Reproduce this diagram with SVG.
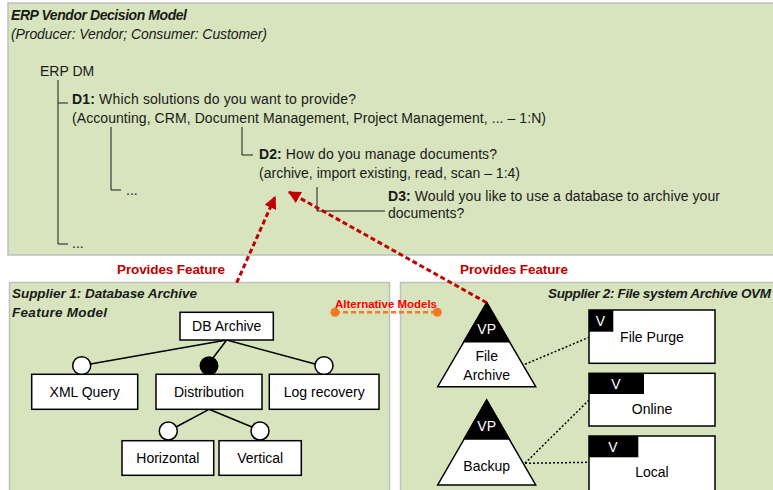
<svg xmlns="http://www.w3.org/2000/svg" width="773" height="490" viewBox="0 0 773 490">
<defs>
<style>
text{font-family:"Liberation Sans",Arial,sans-serif;fill:#1a1a1a;}
.t{font-size:14px;}
.b{font-weight:bold;}
.bi{font-weight:bold;font-style:italic;}
.it{font-style:italic;}
.panel{fill:#d7e4bd;stroke:#bfbfbf;stroke-width:1.5;}
.tree{fill:none;stroke:#1a1a1a;stroke-width:1;}
.box{fill:#ffffff;stroke:#000;stroke-width:1.5;}
.ln{fill:none;stroke:#000;stroke-width:1.5;}
.circ{fill:#fff;stroke:#000;stroke-width:1.5;}
.dot{fill:none;stroke:#000;stroke-width:1.5;stroke-dasharray:2,2;}
.red{fill:none;stroke:#c00000;stroke-width:3;stroke-dasharray:5,3;}
.pf{fill:#c00000;font-weight:bold;font-size:13.5px;}
.lab{font-size:14px;text-anchor:middle;fill:#000;}
.wt{font-size:14px;text-anchor:middle;fill:#fff;}
</style>
<marker id="ah" viewBox="0 0 10 10" refX="9" refY="5" markerWidth="4.2" markerHeight="4.2" orient="auto" markerUnits="strokeWidth">
<path d="M0,0 L10,5 L0,10 z" fill="#c00000"/>
</marker>
</defs>

<g id="panel-top">
<rect class="panel" x="8" y="3" width="800" height="252"/>
<text class="t bi" x="11" y="20" textLength="176">ERP Vendor Decision Model</text>
<text class="t it" x="11" y="39" textLength="256">(Producer: Vendor; Consumer: Customer)</text>
</g>

<g id="decision-tree">
<text id="erpdm" class="t" x="40" y="76">ERP DM</text>
<path class="tree" d="M58,80 V244 H68 M58,103 H68 M111,127 V190 H121 M242,127 V155 H253 M317,187 V211 H385"/>
<text id="d1" class="t" x="72" y="104" textLength="284"><tspan class="b">D1:</tspan> Which solutions do you want to provide?</text>
<text class="t" x="72" y="123" textLength="474">(Accounting, CRM, Document Management, Project Management, ... – 1:N)</text>
<text class="t" x="126" y="195">...</text>
<text id="d2" class="t" x="259" y="159" textLength="238"><tspan class="b">D2:</tspan> How do you manage documents?</text>
<text class="t" x="259" y="178" textLength="261">(archive, import existing, read, scan – 1:4)</text>
<text id="d3" class="t" x="388" y="201" textLength="332"><tspan class="b">D3:</tspan> Would you like to use a database to archive your</text>
<text class="t" x="388" y="218">documents?</text>
<text class="t" x="72" y="248">...</text>
</g>

<g id="panel-supplier1">
<rect class="panel" x="9.5" y="282.5" width="380" height="220"/>
<text class="bi" font-size="13.5" x="12" y="298" textLength="185">Supplier 1: Database Archive</text>
<text class="bi" font-size="13.5" x="12" y="317" textLength="95">Feature Model</text>
</g>

<g id="panel-supplier2">
<rect class="panel" x="400.5" y="282.5" width="400" height="220"/>
<text class="bi" font-size="13.5" x="548" y="298" textLength="223">Supplier 2: File system Archive OVM</text>
</g>

<g id="feature-model">
<path class="ln" d="M226.7,340 L90.5,364 M226.7,340 L213,358 M226.7,340 L315,364 M209,409.3 L176,427 M209,409.3 L252,427"/>
<circle class="circ" cx="81.7" cy="365.7" r="9"/>
<circle cx="209" cy="365.7" r="9.5" fill="#000"/>
<circle class="circ" cx="324" cy="365.7" r="9"/>
<circle class="circ" cx="168.3" cy="431" r="9"/>
<circle class="circ" cx="260" cy="431" r="9"/>
<g id="n-dbarchive"><rect class="box" x="180" y="312.3" width="93.3" height="27.7"/><text class="lab" x="226.7" y="331">DB Archive</text></g>
<g id="n-xml"><rect class="box" x="31.7" y="374.3" width="106" height="35"/><text class="lab" x="84.7" y="397">XML Query</text></g>
<g id="n-distribution"><rect class="box" x="156" y="374.3" width="106" height="35"/><text class="lab" x="209" y="397">Distribution</text></g>
<g id="n-log"><rect class="box" x="269.3" y="374.3" width="109.7" height="35"/><text class="lab" x="324.2" y="397">Log recovery</text></g>
<g id="n-horizontal"><rect class="box" x="122" y="440.7" width="91.7" height="34.6"/><text class="lab" x="167.8" y="463">Horizontal</text></g>
<g id="n-vertical"><rect class="box" x="219" y="440.7" width="82.3" height="34.6"/><text class="lab" x="260.2" y="463">Vertical</text></g>
</g>

<g id="ovm">
<path class="dot" d="M525,364.3 L589,337.3 M525,463.3 L589,400 M525,463.3 L589,462.3"/>
<g id="vp-filearchive">
<polygon points="486.7,302.7 535.7,386.7 437.7,386.7" fill="#fff" stroke="#000" stroke-width="1.5"/>
<polygon points="486.7,302.7 509.4,341.7 463.9,341.7" fill="#000" stroke="#000" stroke-width="1.5"/>
<text class="wt" x="486.7" y="334">VP</text>
<text class="lab" x="486.7" y="361">File</text>
<text class="lab" x="486.7" y="380">Archive</text>
</g>
<g id="vp-backup">
<polygon points="486.7,400 535.7,485 437.7,485" fill="#fff" stroke="#000" stroke-width="1.5"/>
<polygon points="486.7,400 509.2,439 464.2,439" fill="#000" stroke="#000" stroke-width="1.5"/>
<text class="wt" x="486.7" y="431">VP</text>
<text class="lab" x="486.7" y="471">Backup</text>
</g>
<g id="v-filepurge">
<rect class="box" x="589" y="310" width="126" height="53.3"/>
<rect x="589" y="310" width="24.3" height="21.7" fill="#000"/>
<text class="wt" x="600.5" y="326">V</text>
<text class="lab" x="652" y="342">File Purge</text>
</g>
<g id="v-online">
<rect class="box" x="589" y="373.3" width="126" height="52.7"/>
<rect x="589" y="373.3" width="55" height="20.7" fill="#000"/>
<text class="wt" x="616" y="389">V</text>
<text class="lab" x="652" y="414">Online</text>
</g>
<g id="v-local">
<rect class="box" x="589" y="436" width="126" height="60"/>
<rect x="589" y="436" width="49.3" height="21.3" fill="#000"/>
<text class="wt" x="613" y="452">V</text>
<text class="lab" x="652" y="477">Local</text>
</g>
</g>

<g id="connectors">
<line class="red" x1="236.7" y1="282.7" x2="275" y2="197" marker-end="url(#ah)"/>
<line class="red" x1="486.7" y1="302.7" x2="289" y2="192" marker-end="url(#ah)"/>
<text class="pf" x="117" y="274" textLength="108">Provides Feature</text>
<text class="pf" x="460" y="274" textLength="108">Provides Feature</text>
<line x1="335" y1="312.3" x2="437.3" y2="312.3" stroke="#f47a20" stroke-width="2.5" stroke-dasharray="5,3"/>
<circle cx="335" cy="312.3" r="4.5" fill="#f47a20"/>
<circle cx="437.3" cy="312.3" r="4.5" fill="#f47a20"/>
<text x="335" y="307.5" font-size="11.5" font-weight="bold" fill="#ff0000" style="fill:#ff0000" textLength="102">Alternative Models</text>
</g>
</svg>
